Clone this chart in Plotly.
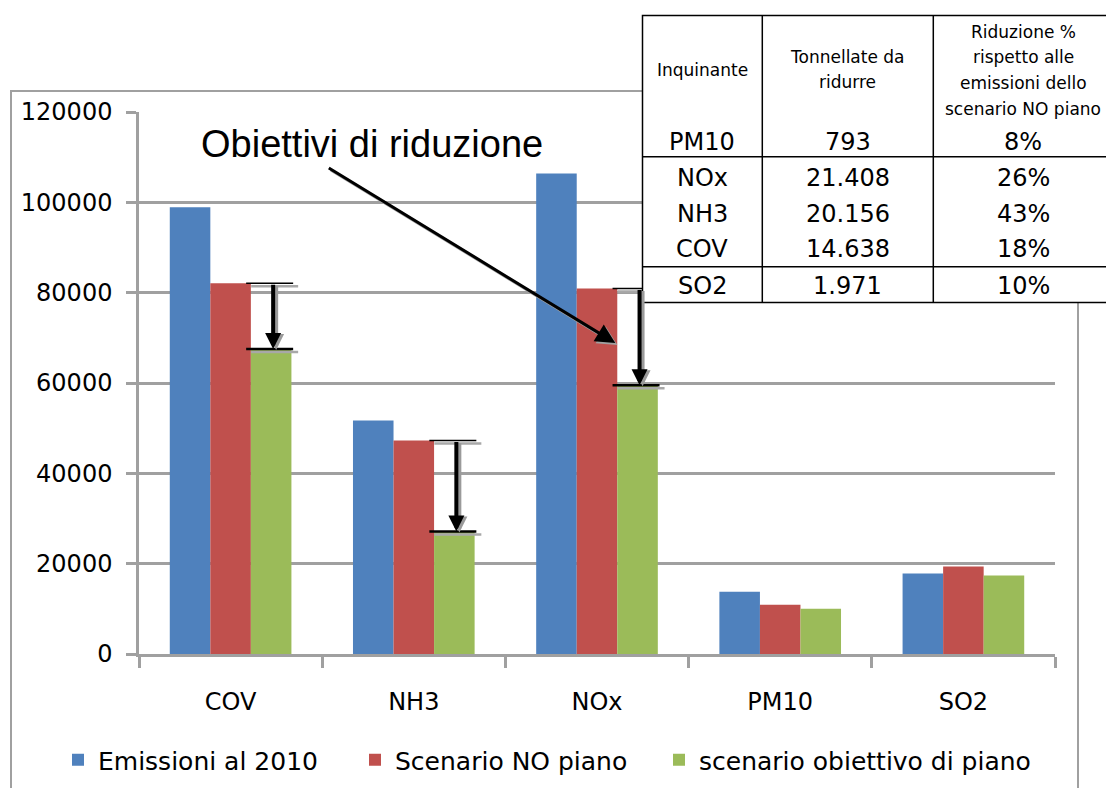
import plotly.graph_objects as go

# ---------------- data ----------------
categories = ["COV", "NH3", "NOx", "PM10", "SO2"]
emissioni_2010 = [98900, 51700, 106400, 13800, 17800]
scenario_no_piano = [82100, 47250, 80900, 10900, 19350]
scenario_obiettivo = [67500, 27100, 59500, 10000, 17400]
series_names = ["Emissioni al 2010", "Scenario NO piano", "scenario obiettivo di piano"]
y_ticks = [0, 20000, 40000, 60000, 80000, 100000, 120000]
arrow_categories = ["COV", "NH3", "NOx"]

table_header = [["Inquinante"], ["Tonnellate da", "ridurre"],
                ["Riduzione %", "rispetto alle", "emissioni dello", "scenario NO piano"]]
table_inquinante = ["PM10", "NOx", "NH3", "COV", "SO2"]
table_tonnellate = ["793", "21.408", "20.156", "14.638", "1.971"]
table_riduzione = ["8%", "26%", "43%", "18%", "10%"]
annotation_text = "Obiettivi di riduzione"

# ---------------- layout constants ----------------
OFF = 8                      # page body margin of the html page
W, H = 1114 - OFF, 788 - OFF
PLOT_L, PLOT_R, PLOT_T, PLOT_B = 139, 1055, 112, 654   # in page pixels
ML, MR = PLOT_L - OFF, W - (PLOT_R - OFF)
MT, MB = PLOT_T - OFF, H - (PLOT_B - OFF)
PW, PH = PLOT_R - PLOT_L, PLOT_B - PLOT_T
BARGAP = 0.336
colors = ["#4F81BD", "#C0504D", "#9BBB59"]
GRID = "#A0A0A0"
FONT = "DejaVu Sans"
legend_px = [58, 355, 659]


def xp(px):
    return (px - PLOT_L) / PW


def yp(py):
    return (PLOT_B - py) / PH


CAT_PX = PW / len(categories)       # pixels per category
DY = 120000 / PH                    # data units per pixel
DX = 1 / CAT_PX                     # category units per pixel

fig = go.Figure()
legend_ids = ["legend", "legend2", "legend3"]
for name, vals, col, lg in zip(series_names,
                               [emissioni_2010, scenario_no_piano, scenario_obiettivo],
                               colors, legend_ids):
    fig.add_trace(go.Bar(name=name, x=categories, y=vals, marker_color=col,
                         marker_line_width=0, legend=lg))

shapes = []
annotations = []

# chart outer border (grey)
shapes.append(dict(type="rect", xref="paper", yref="paper",
                   x0=xp(11), x1=xp(1078), y0=yp(800), y1=yp(91),
                   line=dict(color=GRID, width=2), fillcolor="rgba(0,0,0,0)",
                   layer="below"))

# reduction arrows (from NO-piano value down to objective value)
green_off = (1 - BARGAP) / 3
for cat in arrow_categories:
    i = categories.index(cat)
    top = scenario_no_piano[i]
    bot = scenario_obiettivo[i]
    xc = i + green_off
    for yv, w in [(top, 1.5), (bot, 2.5)]:
        shapes.append(dict(type="line", xref="x", yref="y",
                           x0=xc - 20 * DX, x1=xc + 27 * DX,
                           y0=yv - 3 * DY, y1=yv - 3 * DY,
                           line=dict(color="#A8A8A8", width=2.5), layer="above"))
        shapes.append(dict(type="line", xref="x", yref="y",
                           x0=xc - 25 * DX, x1=xc + 22 * DX, y0=yv, y1=yv,
                           line=dict(color="black", width=w), layer="above"))
    annotations.append(dict(x=xc + 2 * DX, y=bot, ax=xc + 2 * DX, ay=top,
                            xref="x", yref="y", axref="x", ayref="y",
                            text="", showarrow=True, arrowhead=2, arrowsize=0.8,
                            arrowwidth=4, arrowcolor="#9A9A9A", xshift=3, yshift=-1,
                            standoff=0))
    annotations.append(dict(x=xc + 2 * DX, y=bot, ax=xc + 2 * DX, ay=top,
                            xref="x", yref="y", axref="x", ayref="y",
                            text="", showarrow=True, arrowhead=2, arrowsize=0.8,
                            arrowwidth=4, arrowcolor="black", standoff=0))

# big annotation arrow + text
tip_i = categories.index("NOx")
tip_x = tip_i + 0.10
tip_y = (PLOT_B - 343) * DY
annotations.append(dict(x=tip_x, y=tip_y, xref="x", yref="y", ax=-288, ay=-176,
                        text="", showarrow=True, arrowhead=2, arrowsize=1.3,
                        arrowwidth=3, arrowcolor="#A0A0A0", xshift=2, yshift=-2,
                        standoff=0))
annotations.append(dict(x=tip_x, y=tip_y, xref="x", yref="y", ax=-288, ay=-176,
                        text="", showarrow=True, arrowhead=2, arrowsize=1.3,
                        arrowwidth=3, arrowcolor="black", standoff=0))
annotations.append(dict(x=xp(199), y=yp(144), xref="paper", yref="paper",
                        xanchor="left", yanchor="middle", showarrow=False,
                        text=annotation_text,
                        font=dict(family="Liberation Sans", size=38, color="black")))

# ---------------- table ----------------
TL, TR, TT, TB = 642.5, 1113, 15.5, 302.5
col_x = [642.5, 762.3, 933.3, 1113]
shapes.append(dict(type="rect", xref="paper", yref="paper",
                   x0=xp(TL), x1=xp(TR), y0=yp(TB), y1=yp(TT),
                   fillcolor="white", line=dict(color="black", width=1.5),
                   layer="above"))
for cx in col_x[1:3]:
    shapes.append(dict(type="line", xref="paper", yref="paper",
                       x0=xp(cx), x1=xp(cx), y0=yp(TB), y1=yp(TT),
                       line=dict(color="black", width=1.5), layer="above"))
for hy in [156.7, 266.7]:
    shapes.append(dict(type="line", xref="paper", yref="paper",
                       x0=xp(TL), x1=xp(TR), y0=yp(hy), y1=yp(hy),
                       line=dict(color="black", width=1.5), layer="above"))

col_centers = [(col_x[k] + col_x[k + 1]) / 2 for k in range(3)]
header_line_y = [[70], [56.7, 82], [31.5, 57, 83, 109]]
for k, lines in enumerate(table_header):
    for line, ly in zip(lines, header_line_y[k]):
        annotations.append(dict(x=xp(col_centers[k]), y=yp(ly), xref="paper",
                                yref="paper", xanchor="center", yanchor="middle",
                                showarrow=False, text=line,
                                font=dict(family=FONT, size=17, color="black")))
row_y = [141.5, 178.5, 214, 249.5, 285.5]
for r in range(len(table_inquinante)):
    for k, colvals in enumerate([table_inquinante, table_tonnellate, table_riduzione]):
        annotations.append(dict(x=xp(col_centers[k]), y=yp(row_y[r]), xref="paper",
                                yref="paper", xanchor="center", yanchor="middle",
                                showarrow=False, text=colvals[r],
                                font=dict(family=FONT, size=24, color="black")))

legend_layouts = {}
for lg, lx in zip(legend_ids, legend_px):
    legend_layouts[lg] = dict(orientation="h", x=xp(lx), y=yp(760), xanchor="left",
                              yanchor="middle",
                              font=dict(family=FONT, size=25, color="black"),
                              bgcolor="rgba(0,0,0,0)")

fig.update_layout(
    width=W, height=H,
    margin=dict(l=ML, r=MR, t=MT, b=MB, pad=0, autoexpand=False),
    paper_bgcolor="white", plot_bgcolor="white",
    barmode="group", bargap=BARGAP, bargroupgap=0,
    font=dict(family=FONT, size=24, color="black"),
    shapes=shapes, annotations=annotations,
    showlegend=True,
    **legend_layouts,
)
fig.update_xaxes(type="category", tickson="boundaries", ticks="outside", ticklen=11,
                 tickwidth=2.5, tickcolor=GRID, showline=True, linecolor=GRID,
                 linewidth=3, showgrid=False, ticklabelstandoff=24, automargin=False,
                 tickfont=dict(family=FONT, size=24, color="black"))
fig.update_yaxes(range=[0, 120000], tickvals=y_ticks, ticks="outside", ticklen=10,
                 tickwidth=2.5, tickcolor=GRID, showline=True, linecolor=GRID,
                 linewidth=2.5, showgrid=True, gridcolor=GRID, gridwidth=2.5,
                 zeroline=False, ticklabelstandoff=9, automargin=False,
                 tickformat="d", tickfont=dict(family=FONT, size=24, color="black"))

fig.write_html("out.html")
